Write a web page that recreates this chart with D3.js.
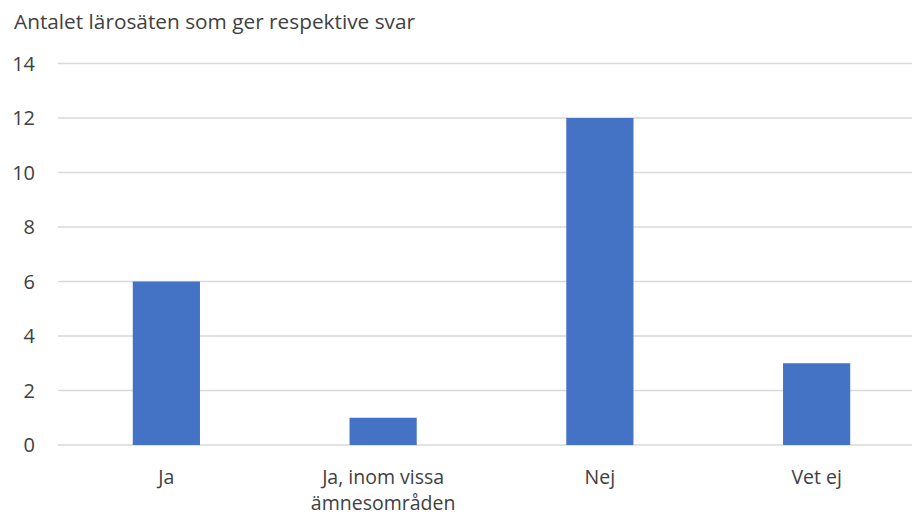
<!DOCTYPE html>
<html>
<head>
<meta charset="utf-8">
<script src="https://cdn.jsdelivr.net/npm/d3@7"></script>
<style>
  body { margin: 0; background: #fff; }
  svg text { font-family: "Open Sans", Lato, sans-serif; fill: #404040; }
</style>
</head>
<body>
<svg id="chart" width="912" height="515"></svg>
<script>
// chart data
const categories = [["Ja"], ["Ja, inom vissa", "ämnesområden"], ["Nej"], ["Vet ej"]];
const values = [6, 1, 12, 3];
const yTicks = [0, 2, 4, 6, 8, 10, 12, 14];
const titleText = "Antalet lärosäten som ger respektive svar";

const svg = d3.select('#chart');
const width = 912;

// plot area runs past the right edge, like the cropped original
const x = d3.scaleBand()
    .domain(d3.range(categories.length))
    .range([58, 925])
    .paddingInner(0.69)
    .paddingOuter(0.345);

const y = d3.scaleLinear()
    .domain([0, 14])
    .range([445, 63.5]);

// title
svg.append('text')
    .attr('x', 14)
    .attr('y', 29)
    .attr('font-size', 20.8)
    .text(titleText);

// gridlines
svg.append('g')
    .selectAll('line')
    .data(yTicks)
    .enter()
    .append('line')
    .attr('x1', 58)
    .attr('x2', width)
    .attr('y1', d => y(d))
    .attr('y2', d => y(d))
    .attr('stroke', '#d9d9d9')
    .attr('stroke-width', 1.5);

// y tick labels
svg.append('g')
    .selectAll('text')
    .data(yTicks)
    .enter()
    .append('text')
    .attr('x', 35)
    .attr('y', d => y(d))
    .attr('dy', '0.35em')
    .attr('text-anchor', 'end')
    .attr('font-size', 20)
    .text(d => d);

// bars
svg.append('g')
    .selectAll('rect')
    .data(values)
    .enter()
    .append('rect')
    .attr('x', (d, i) => x(i))
    .attr('width', x.bandwidth())
    .attr('y', d => y(d))
    .attr('height', d => y(0) - y(d))
    .attr('fill', '#4472c4');

// category labels
const labels = svg.append('g')
    .selectAll('text')
    .data(categories)
    .enter()
    .append('text')
    .attr('x', (d, i) => x(i) + x.bandwidth() / 2)
    .attr('y', 483.5)
    .attr('text-anchor', 'middle')
    .attr('font-size', 19.5);

labels.selectAll('tspan')
    .data(d => d)
    .enter()
    .append('tspan')
    .attr('x', function () { return d3.select(this.parentNode).attr('x'); })
    .attr('dy', (d, i) => i === 0 ? 0 : 26.5)
    .text(d => d);
</script>
</body>
</html>
